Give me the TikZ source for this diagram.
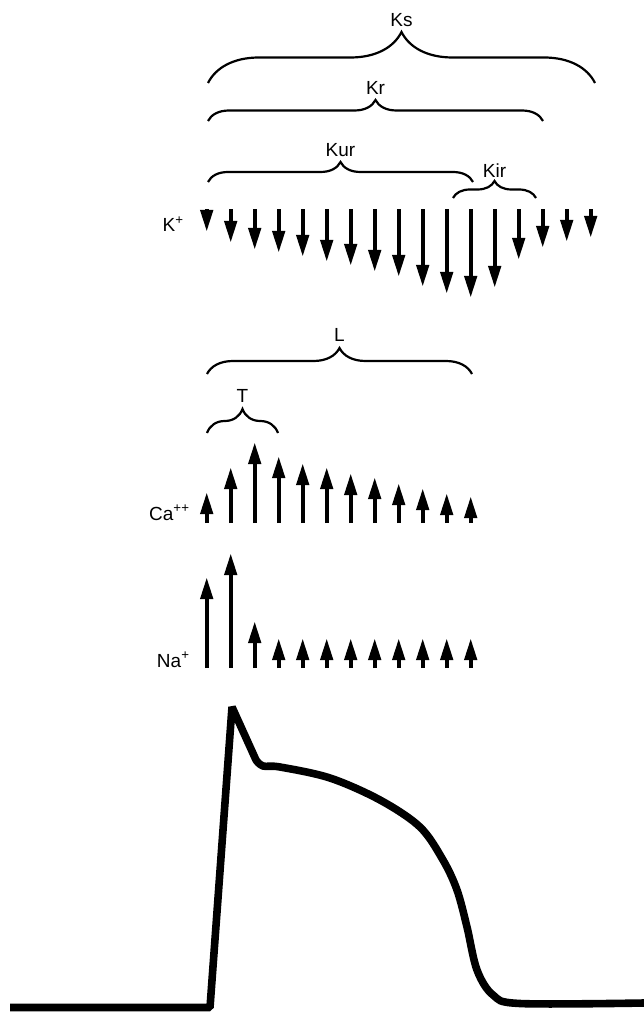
\documentclass[tikz,border=0pt]{standalone}
\usepackage{fontspec}
\setmainfont{Liberation Sans}
\usetikzlibrary{arrows.meta,decorations.pathreplacing}
\definecolor{inkclr}{RGB}{0,0,0}
\tikzset{
  ionlbl/.style={font=\fontsize{13.5}{16}\selectfont,text=inkclr,
    anchor=base east,inner sep=0pt},
  chlbl/.style={font=\fontsize{13.5}{16}\selectfont,text=inkclr,
    anchor=base,inner sep=0pt},
  flux/.style={-{Triangle[length=0.55cm,width=0.3cm]},line width=0.11cm,
    draw=inkclr},
  brc/.style={decorate,decoration={brace,amplitude=#1},
    line width=0.055cm,draw=inkclr},
  apline/.style={line width=0.19cm,draw=inkclr,line join=bevel},
}

\begin{document}
\begin{tikzpicture}[x=0.025cm,y=-0.025cm]
  \useasboundingbox (0,0) rectangle (644,1012);

  % channel braces
  \draw[brc=1.275cm] (208,83)  -- (595,83);
  \draw[brc=0.525cm] (208,121) -- (543,121);
  \draw[brc=0.5cm]   (208,182) -- (473,182);
  \draw[brc=0.425cm] (453,198) -- (536,198);
  \draw[brc=0.65cm]  (207,374) -- (472,374);
  \draw[brc=0.6cm]   (207,433) -- (278,433);

  \node[chlbl] (ks)  at (401.5,26.7)  {Ks};
  \node[chlbl] (kr)  at (375.5,95)    {Kr};
  \node[chlbl] (kur) at (340.5,156)   {Kur};
  \node[chlbl] (kir) at (494.5,177.3) {Kir};
  \node[chlbl] (ll)  at (339.5,341.7) {L};
  \node[chlbl] (tt)  at (242.5,402.7) {T};

  \node[ionlbl] (kion)  at (184,231.7) {K\textsuperscript{+}};
  \node[ionlbl] (caion) at (190,520)   {Ca\textsuperscript{++}};
  \node[ionlbl] (naion) at (190,667)   {Na\textsuperscript{+}};

  % ion currents
  \foreach \tip [count=\i from 0] in {232,243,250,253,257,262,266,272,277,
      287,294,298,288,260,248,242,238}
    \draw[flux] ({206.7+24*\i},209) -- ({206.7+24*\i},\tip);
  \foreach \tip [count=\i from 0] in {492,467,442,456,463,467,473,477,483,
      488,493,496}
    \draw[flux] ({206.7+24*\i},523) -- ({206.7+24*\i},\tip);
  \foreach \tip [count=\i from 0] in {577,553,621,638,638,638,638,638,638,
      638,638,638}
    \draw[flux] ({206.7+24*\i},668) -- ({206.7+24*\i},\tip);

  % action potential
  \draw[apline] (10,1007.5) -- (210,1007.5) -- (232,707) -- plot[smooth,tension=0.55]
    coordinates {(256,760) (263,766) (280,767) (330,778) (380,800) (420,827)
      (443,860) (457,890) (467,927) (477,970) (493,995) (520,1003.5) (644,1003)};

\end{tikzpicture}
\end{document}
